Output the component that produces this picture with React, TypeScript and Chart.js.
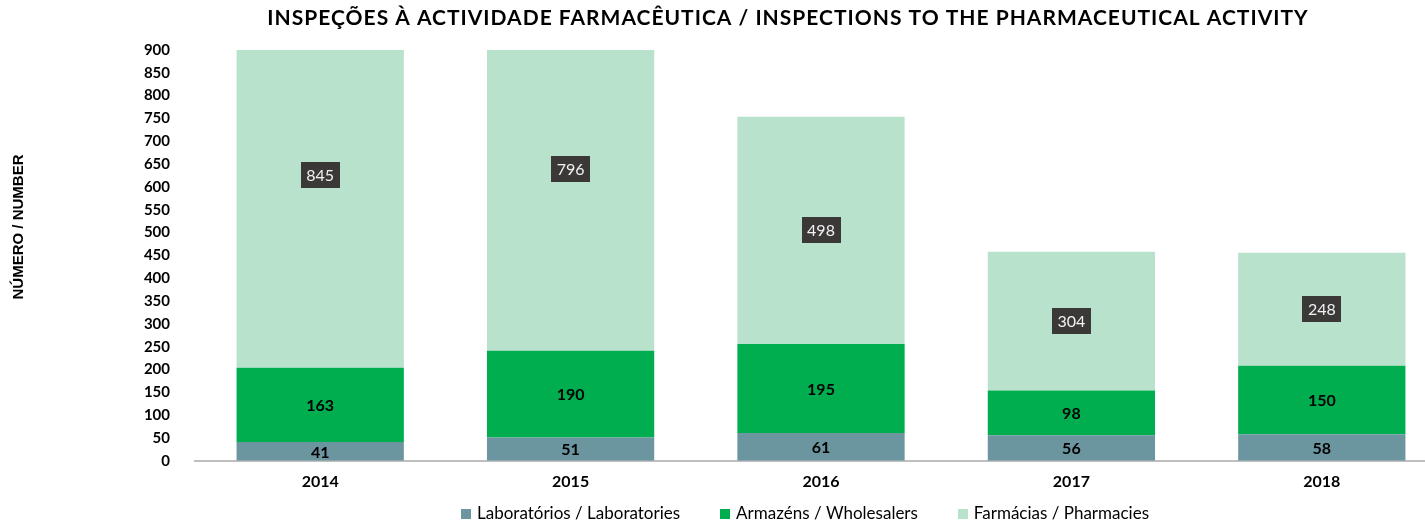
import { useEffect, useRef } from 'react';
import { Chart, registerables } from 'chart.js';

Chart.register(...registerables);

const years = ['2014', '2015', '2016', '2017', '2018'];
const laboratories = [41, 51, 61, 56, 58];
const wholesalers = [163, 190, 195, 98, 150];
const pharmacies = [845, 796, 498, 304, 248];
const seriesNames = ['Laboratórios / Laboratories', 'Armazéns / Wholesalers', 'Farmácias / Pharmacies'];
const seriesColors = ['#6b96a0', '#00ad4f', '#b8e2cb'];
const yMax = 900;
const yStep = 50;
const TITLE = 'INSPEÇÕES À ACTIVIDADE FARMACÊUTICA / INSPECTIONS TO THE PHARMACEUTICAL ACTIVITY';
const Y_TITLE = 'NÚMERO / NUMBER';

const FONT = 'Lato, "Open Sans", sans-serif';

const decorPlugin = {
  id: 'decor',
  afterDatasetsDraw(chart: any) {
    const ctx = chart.ctx;
    ctx.save();
    chart.data.datasets.forEach((ds: any, di: number) => {
      const meta = chart.getDatasetMeta(di);
      meta.data.forEach((bar: any, i: number) => {
        const cx = bar.x;
        const cy = (bar.y + bar.base) / 2;
        const txt = String(ds.data[i]);
        if (di === 2) {
          ctx.font = `16px ${FONT}`;
          const w = ctx.measureText(txt).width + 11;
          const h = 26;
          ctx.fillStyle = '#3b3838';
          ctx.fillRect(Math.round(cx - w / 2), Math.round(cy - h / 2), Math.round(w), h);
          ctx.fillStyle = '#f2f2f2';
          ctx.textAlign = 'center';
          ctx.textBaseline = 'middle';
          ctx.fillText(txt, cx, cy + 1);
        } else {
          ctx.font = `bold 16px ${FONT}`;
          ctx.fillStyle = '#000000';
          ctx.textAlign = 'center';
          ctx.textBaseline = 'middle';
          ctx.fillText(txt, cx, cy + 1);
        }
      });
    });
    ctx.restore();
  },
  afterDraw(chart: any) {
    const ctx = chart.ctx;
    ctx.save();
    // Title
    ctx.font = `bold 21px ${FONT}`;
    (ctx as any).letterSpacing = '1px';
    ctx.fillStyle = '#000000';
    ctx.textAlign = 'center';
    ctx.textBaseline = 'middle';
    ctx.fillText(TITLE, 788, 18);
    (ctx as any).letterSpacing = '0px';
    // Y title
    ctx.save();
    ctx.translate(19, 227);
    ctx.rotate(-Math.PI / 2);
    ctx.font = 'bold 15px "Liberation Sans", Arial, sans-serif';
    ctx.fillText(Y_TITLE, 0, 0);
    ctx.restore();
    // Legend
    ctx.font = `17px ${FONT}`;
    const box = 10;
    const gapBox = 6;
    const gapItem = 40;
    const widths = seriesNames.map((n) => ctx.measureText(n).width);
    const total = widths.reduce((a, w) => a + box + gapBox + w, 0) + gapItem * (seriesNames.length - 1);
    let x = 805 - total / 2;
    const y = 514;
    ctx.textAlign = 'left';
    ctx.textBaseline = 'middle';
    seriesNames.forEach((n, i) => {
      ctx.fillStyle = seriesColors[i];
      ctx.fillRect(Math.round(x), y - box / 2, box, box);
      ctx.fillStyle = '#000000';
      ctx.fillText(n, x + box + gapBox, y);
      x += box + gapBox + widths[i] + gapItem;
    });
    ctx.restore();
  },
};

export default function App() {
  const ref = useRef<HTMLCanvasElement>(null);
  useEffect(() => {
    const canvas = ref.current!;
    const chart = new Chart(canvas, {
      type: 'bar',
      data: {
        labels: years,
        datasets: [
          { label: seriesNames[0], data: laboratories, backgroundColor: seriesColors[0] },
          { label: seriesNames[1], data: wholesalers, backgroundColor: seriesColors[1] },
          { label: seriesNames[2], data: pharmacies, backgroundColor: seriesColors[2] },
        ],
      },
      options: {
        responsive: false,
        animation: false,
        devicePixelRatio: 1,
        layout: { padding: { top: 50, left: 0, right: 3, bottom: 32 } },
        datasets: { bar: { categoryPercentage: 1, barPercentage: 0.668 } },
        plugins: { legend: { display: false }, title: { display: false }, tooltip: { enabled: false } },
        scales: {
          x: {
            stacked: true,
            grid: { display: false },
            border: { display: true, color: '#bfbfbf', width: 2 },
            ticks: { color: '#000', padding: 3, font: { family: FONT, size: 16, weight: 'bold' } },
          },
          y: {
            stacked: true,
            min: 0,
            max: yMax,
            grid: { display: false },
            border: { display: false },
            ticks: { stepSize: yStep, color: '#000', padding: 17, font: { family: FONT, size: 15, weight: 'bold' } },
            afterFit: (scale: any) => {
              scale.width = 195;
            },
          },
        },
      },
      plugins: [decorPlugin],
    } as any);
    return () => chart.destroy();
  }, []);
  return (
    <div style={{ position: 'fixed', left: 0, top: 0, width: 1425, height: 526, overflow: 'hidden', background: '#fff' }}>
      <canvas ref={ref} width={1450} height={526} style={{ display: 'block', width: 1450, height: 526 }} />
    </div>
  );
}
